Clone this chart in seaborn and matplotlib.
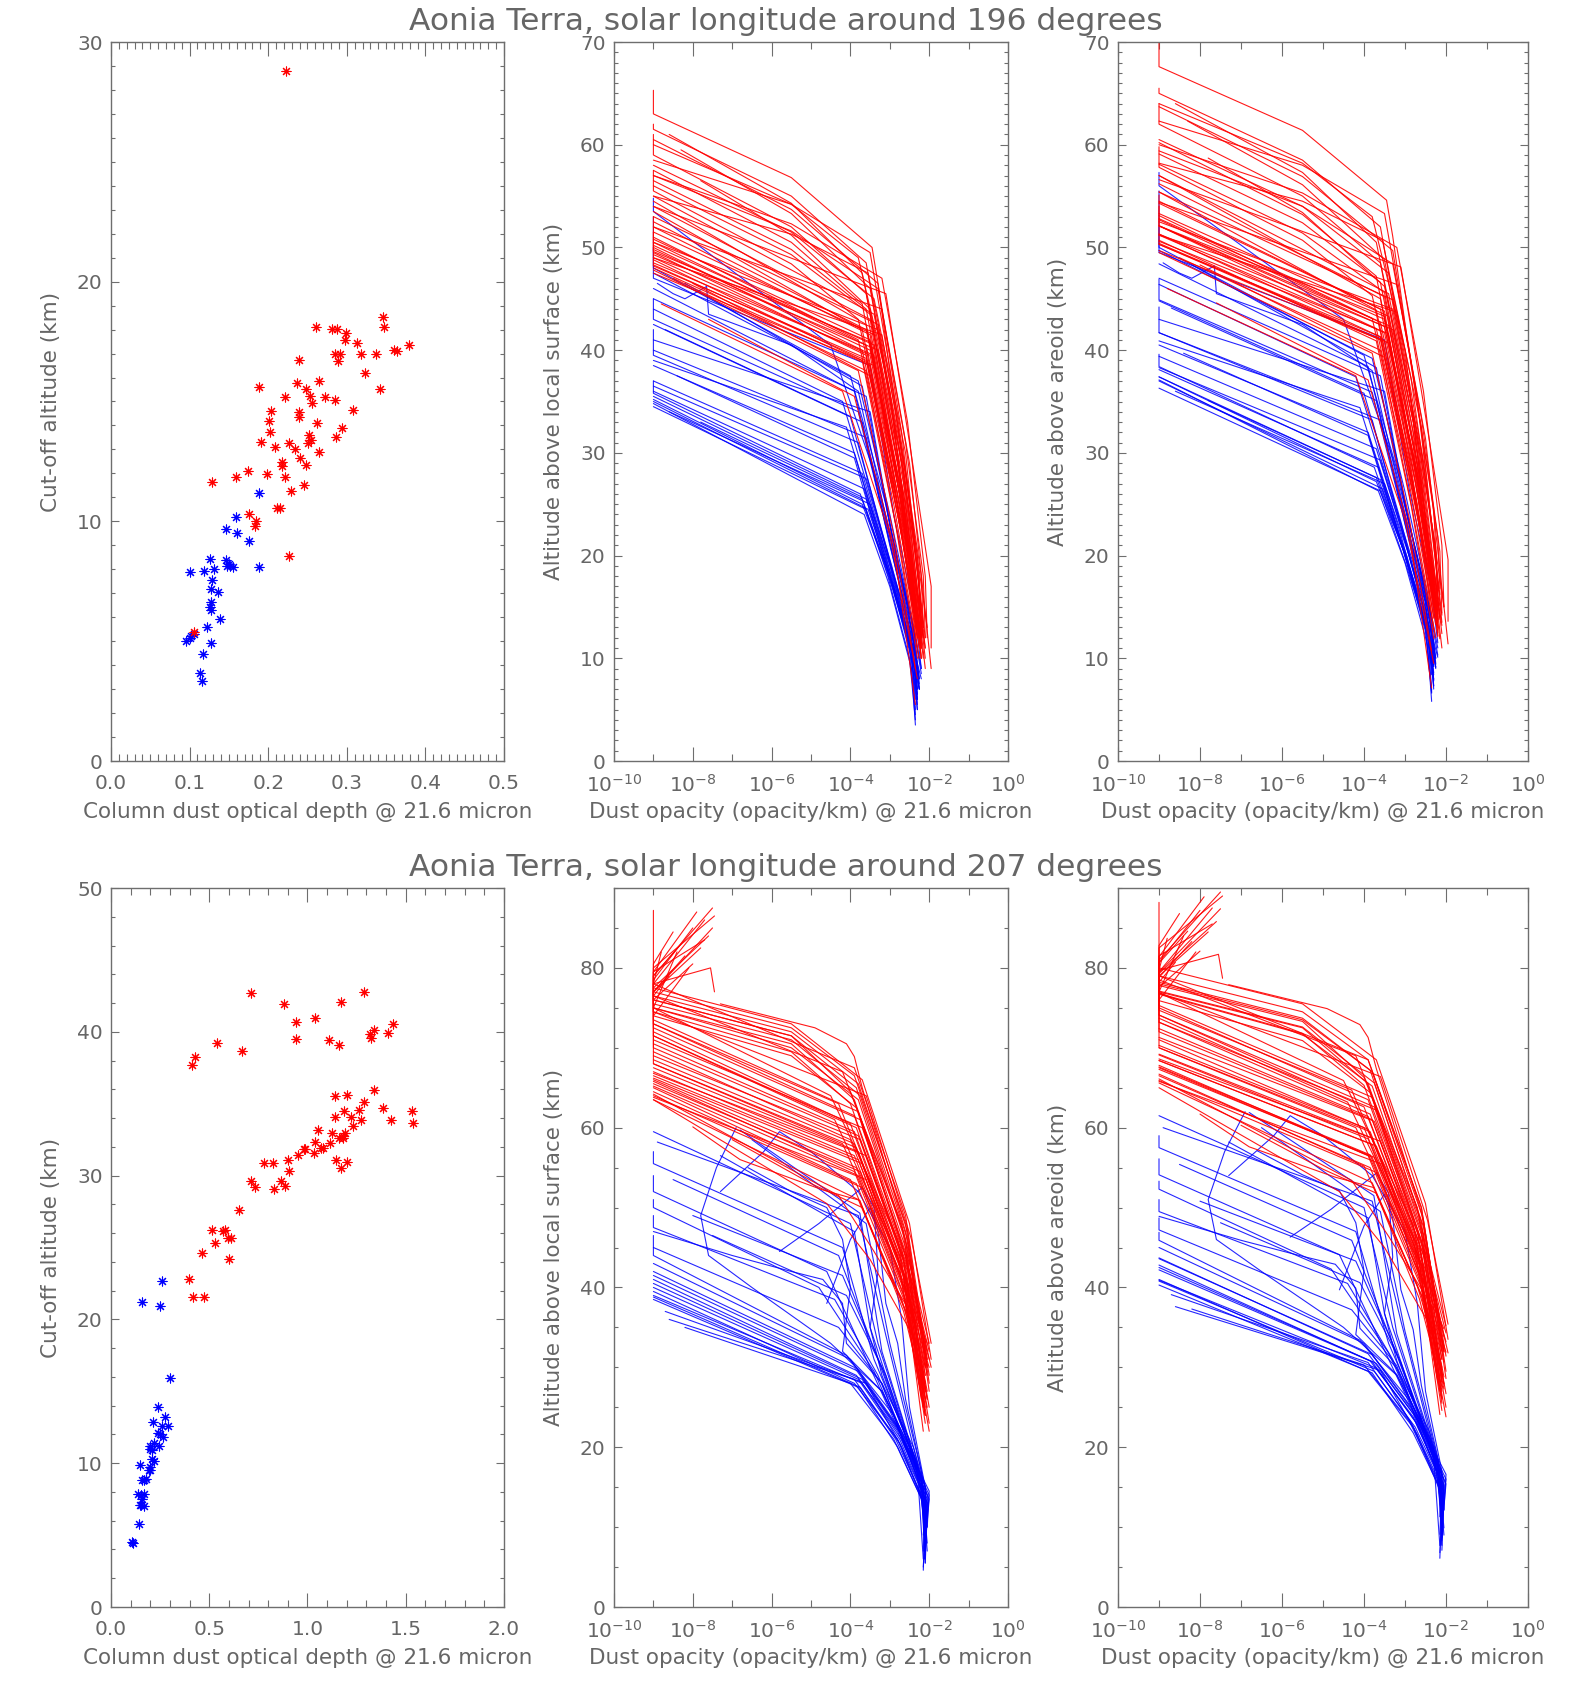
import numpy as np
import pandas as pd
import matplotlib
matplotlib.use("Agg")
import matplotlib.pyplot as plt
import seaborn as sns
from matplotlib.ticker import MultipleLocator, FixedLocator, FuncFormatter, NullFormatter

# ---------------------------------------------------------------- data
TITLES = ["Aonia Terra, solar longitude around 196 degrees",
          "Aonia Terra, solar longitude around 207 degrees"]
XLABEL_TAU = "Column dust optical depth @ 21.6 micron"
XLABEL_OPA = "Dust opacity (opacity/km) @ 21.6 micron"
YLABELS = ["Cut-off altitude (km)", "Altitude above local surface (km)", "Altitude above areoid (km)"]

# scatter: column optical depth vs cut-off altitude
TAU196_RED = [0.2228, 0.346, 0.347, 0.261, 0.281, 0.288, 0.2986, 0.2975, 0.3127, 0.3795, 0.3604, 0.3645,
              0.2845, 0.2914, 0.3186, 0.3368, 0.2891, 0.239, 0.3227, 0.2645, 0.2367, 0.1887, 0.248, 0.3418,
              0.253, 0.2723, 0.2845, 0.2218, 0.256, 0.204, 0.2393, 0.3077, 0.2393, 0.2005, 0.2018, 0.2617,
              0.294, 0.2518, 0.2541, 0.2505, 0.2859, 0.1914, 0.226, 0.2087, 0.2336, 0.2647, 0.2405, 0.2177,
              0.2177, 0.2486, 0.1282, 0.1587, 0.1737, 0.1986, 0.2209, 0.2455, 0.2291, 0.2117, 0.2153, 0.1755,
              0.185, 0.1829, 0.2268, 0.1055]
CUT196_RED = [28.79, 18.51, 18.12, 18.1, 18.01, 18.03, 17.84, 17.56, 17.45, 17.34, 17.15, 17.1,
              17.0, 17.0, 17.0, 17.0, 16.69, 16.72, 16.17, 15.85, 15.76, 15.59, 15.52, 15.51,
              15.23, 15.17, 15.06, 15.17, 14.92, 14.6, 14.58, 14.65, 14.36, 14.18, 13.74, 14.1,
              13.91, 13.6, 13.4, 13.26, 13.5, 13.31, 13.26, 13.11, 13.03, 12.88, 12.63, 12.49,
              12.32, 12.33, 11.65, 11.87, 12.08, 11.98, 11.83, 11.5, 11.28, 10.57, 10.57, 10.3,
              10.01, 9.8, 8.55, 5.37]
TAU196_BLUE = [0.1882, 0.1592, 0.1469, 0.1609, 0.1755, 0.1255, 0.1469, 0.15, 0.152, 0.155, 0.148, 0.188,
               0.1005, 0.1187, 0.1309, 0.1282, 0.1268, 0.1364, 0.1273, 0.1255, 0.1268, 0.1391, 0.1223,
               0.1055, 0.1019, 0.0959, 0.1005, 0.1268, 0.1173, 0.1132, 0.1155]
CUT196_BLUE = [11.17, 10.19, 9.69, 9.5, 9.19, 8.44, 8.39, 8.2, 8.13, 8.1, 8.13, 8.1,
               7.88, 7.92, 8.0, 7.55, 7.18, 7.06, 6.63, 6.43, 6.32, 5.91, 5.6,
               5.3, 5.2, 5.0, 5.15, 4.91, 4.46, 3.69, 3.34]

TAU207_RED = [0.7147, 1.287, 0.878, 1.171, 1.04, 0.942, 1.434, 1.34, 1.317, 1.323, 1.411, 0.94, 1.111,
              1.162, 0.538, 0.669, 0.429, 0.4136, 1.338, 1.14, 1.2, 1.29, 1.385, 1.532, 1.262, 1.184,
              1.138, 1.222, 1.27, 1.427, 1.538, 1.231, 1.051, 1.125, 1.19, 1.18, 1.18, 1.162, 1.04,
              1.116, 1.08, 1.07, 0.989, 0.98, 1.034, 0.952, 0.9, 1.147, 1.2, 0.78, 0.826, 0.904,
              1.168, 0.713, 0.865, 0.735, 0.829, 0.885, 0.651, 0.515, 0.58, 0.571, 0.593, 0.613,
              0.531, 0.464, 0.6, 0.395, 0.415, 0.475]
CUT207_RED = [42.7, 42.74, 41.93, 42.07, 40.96, 40.66, 40.52, 40.12, 39.87, 39.6, 39.93, 39.52, 39.4,
              39.08, 39.22, 38.64, 38.27, 37.71, 35.95, 35.54, 35.6, 35.12, 34.7, 34.52, 34.56, 34.47,
              34.05, 34.1, 33.89, 33.86, 33.63, 33.45, 33.2, 32.94, 32.94, 32.75, 32.6, 32.6, 32.34,
              32.3, 31.94, 31.94, 31.83, 31.83, 31.6, 31.4, 31.08, 31.08, 30.97, 30.9, 30.86, 30.34,
              30.5, 29.65, 29.6, 29.19, 29.07, 29.28, 27.58, 26.2, 26.25, 26.15, 25.69, 25.69,
              25.29, 24.64, 24.18, 22.81, 21.53, 21.53]
TAU207_BLUE = [0.2585, 0.1585, 0.2497, 0.3003, 0.2403, 0.2767, 0.2113, 0.2585, 0.2876, 0.2403, 0.247,
               0.2639, 0.2203, 0.198, 0.2458, 0.2076, 0.2, 0.2076, 0.22, 0.196, 0.2, 0.192, 0.1457,
               0.158, 0.169, 0.18, 0.138, 0.152, 0.17, 0.159, 0.154, 0.17, 0.147, 0.143, 0.106, 0.11]
CUT207_BLUE = [22.69, 21.21, 20.95, 15.9, 13.89, 13.19, 12.87, 12.61, 12.61, 12.12, 12.05,
               11.8, 11.38, 11.19, 11.19, 10.9, 11.0, 10.27, 10.13, 9.71, 9.53, 9.53, 9.87,
               8.83, 8.83, 8.87, 7.83, 7.8, 7.83, 7.5, 7.12, 7.0, 7.12, 5.75, 4.54, 4.42]

# profiles: (surface elevation km, then vertex pairs: log10 opacity, altitude above local surface km)
PROF196_RED = [
    (4.6, -9, 65.3, -9, 63.0, -5.5, 56.8, -3.45, 50.0, -3.3, 46.5, -3.0, 38, -2.3, 20, -2.2, 12),
    (3.5, -9, 62.0, -9, 61.5, -5.5, 55.0, -3.6, 48.5, -2.9, 33, -2.25, 12),
    (3.0, -8.6, 61.0, -5.5, 54.3, -3.7, 47.5, -2.8, 30, -2.2, 11),
    (3.2, -9, 60.5, -5.5, 53.7, -3.3, 46.5, -2.7, 32, -2.15, 13),
    (2.8, -8.3, 59.5, -5.5, 53.3, -3.5, 46.0, -2.75, 30, -2.25, 18, -2.2, 11.5),
    (3.0, -9, 61.0, -9, 59.0, -5.5, 52.0, -3.6, 45.5, -2.8, 29, -2.3, 12),
    (2.5, -9, 58.0, -5.5, 51.5, -3.4, 45.0, -2.6, 30, -2.1, 11),
    (2.7, -9, 57.5, -5.5, 50.5, -3.7, 44.5, -2.9, 28, -2.25, 13),
    (2.2, -7.8, 56.5, -5.5, 51.2, -3.5, 44.0, -2.7, 29, -2.2, 10),
    (2.4, -9, 57.0, -5.5, 51.6, -3.3, 46.0, -2.6, 31, -2.15, 18, -2.1, 12),
    (2.6, -9, 56.5, -5.5, 49.8, -3.6, 44.0, -2.8, 28, -2.25, 12),
    (2.1, -9, 56.0, -5.5, 49.3, -3.5, 43.5, -2.7, 27, -2.2, 10),
    (2.3, -9, 57.5, -9, 55.5, -5.5, 48.4, -3.8, 43.0, -2.9, 27, -2.3, 13),
    (2.0, -9, 55.0, -3.4, 43.5, -2.65, 28, -2.15, 12),
    (2.5, -9, 54.5, -3.6, 42.5, -2.75, 26, -2.2, 11),
    (2.2, -9, 54.0, -3.5, 43.0, -2.8, 27, -2.25, 12.5),
    (1.9, -9, 53.5, -3.7, 42.0, -2.85, 26, -2.3, 12),
    (2.4, -9, 53.0, -3.3, 42.5, -2.6, 27, -2.1, 10),
    (2.0, -9, 52.5, -3.6, 42.0, -2.7, 26, -2.2, 13),
    (2.3, -9, 52.0, -3.5, 41.5, -2.8, 25, -2.25, 11),
    (1.8, -9, 51.5, -3.4, 41.5, -2.65, 26, -2.15, 12),
    (2.1, -9, 51.0, -3.8, 41.0, -2.9, 25, -2.3, 12),
    (2.0, -9, 50.8, -3.5, 41.0, -2.7, 26, -2.2, 12),
    (2.2, -9, 50.5, -3.6, 40.5, -2.75, 25, -2.2, 11),
    (1.9, -9, 50.2, -3.4, 40.5, -2.6, 25, -2.15, 10),
    (2.1, -9, 50.0, -3.7, 40.0, -2.8, 24, -2.25, 13),
    (2.3, -9, 49.8, -3.5, 40.0, -2.7, 25, -2.2, 12),
    (1.8, -9, 49.5, -3.6, 39.5, -2.75, 24, -2.3, 11),
    (2.0, -9, 49.3, -3.3, 40.0, -2.6, 26, -2.1, 9),
    (2.2, -9, 49.0, -3.5, 39.5, -2.7, 24, -2.2, 12),
    (1.9, -9, 48.8, -3.7, 39.0, -2.85, 23, -2.3, 10),
    (2.1, -9, 48.5, -3.4, 39.5, -2.65, 24, -2.15, 13),
    (2.0, -9, 48.3, -3.6, 39.0, -2.7, 23, -2.2, 11),
    (2.4, -9, 48.0, -3.5, 38.5, -2.75, 23, -2.25, 12),
    (1.7, -9, 47.8, -3.8, 38.0, -2.9, 22, -2.35, 9),
    (2.2, -9, 47.5, -3.4, 38.5, -2.6, 24, -2.1, 11),
    (2.0, -8.5, 47.0, -3.6, 38.0, -2.8, 22, -2.25, 10),
    (1.8, -8.0, 46.5, -3.5, 37.5, -2.7, 22, -2.2, 12),
    (1.5, -8.8, 44.5, -4.2, 36.0, -3.0, 22, -2.3, 8),
    (1.6, -7.6, 43.0, -3.9, 35.5, -2.9, 21, -2.35, 5.5),
    (3.0, -9, 57.0, -5.5, 52.3, -3.2, 47.0, -2.55, 33, -2.1, 18, -2.05, 12),
    (2.6, -9, 54.0, -3.1, 45.5, -2.5, 31, -1.95, 17, -1.95, 11),
    (2.4, -9, 52.0, -3.2, 44.0, -2.5, 29, -1.95, 9),
    (2.0, -9, 50.5, -3.3, 42.0, -2.6, 28, -2.05, 13),
    (2.2, -9, 49.0, -3.2, 41.5, -2.55, 27, -2.1, 12),
    (3.8, -9, 58.5, -5.5, 54.2, -3.5, 49.5, -2.9, 36, -2.2, 18, -2.15, 13),
    (3.2, -9, 55.0, -5.5, 51.3, -3.55, 47.5, -2.85, 34, -2.25, 17, -2.2, 12.5),
    (4.0, -9, 60.0, -5.5, 54.2, -3.8, 49.0, -3.0, 36, -2.3, 13),
    (2.5, -9, 51.5, -9, 49.6, -3.5, 40.8, -2.7, 25, -2.2, 10),
    (2.1, -9, 53.0, -9, 48.2, -3.6, 39.2, -2.8, 24, -2.25, 12),
]
PROF196_BLUE = [
    (2.5, -9, 54.8, -9, 53.5, -4.5, 40.5, -3.3, 27, -2.55, 15, -2.3, 9),
    (2.0, -9, 50.0, -9, 48.0, -4.0, 37.5, -3.1, 25, -2.5, 14, -2.25, 8),
    (2.2, -9, 47.5, -3.8, 37.0, -3.0, 24, -2.45, 14, -2.3, 7),
    (1.8, -8.2, 46.5, -3.7, 36.5, -3.0, 23, -2.4, 13, -2.2, 8.5),
    (2.4, -9, 46.0, -3.9, 36.0, -3.1, 23, -2.5, 13, -2.35, 6),
    (2.0, -9, 45.0, -3.6, 35.5, -2.95, 22, -2.4, 13, -2.25, 7.5),
    (1.9, -9, 45.0, -9, 43.0, -3.8, 34.0, -3.05, 22, -2.45, 12, -2.3, 6.5),
    (2.3, -9, 42.5, -4.0, 33.5, -3.1, 21, -2.5, 12, -2.3, 5),
    (2.1, -8.7, 42.0, -3.7, 33.0, -3.0, 21, -2.4, 12, -2.25, 7),
    (1.7, -9, 40.0, -3.6, 31.5, -2.95, 21, -2.4, 13, -2.3, 8),
    (2.2, -9, 42.0, -9, 39.5, -3.8, 31.0, -3.05, 20, -2.45, 11, -2.35, 4.5),
    (2.0, -9, 38.5, -3.9, 30.0, -3.1, 20, -2.5, 11, -2.3, 6),
    (2.4, -9, 37.0, -3.7, 28.0, -3.0, 19, -2.45, 11, -2.25, 7),
    (1.8, -9, 36.5, -3.6, 27.5, -2.95, 19, -2.4, 11, -2.3, 5.5),
    (2.1, -9, 36.0, -3.65, 26.5, -3.0, 18, -2.4, 11, -2.2, 8),
    (2.6, -9, 37.0, -9, 35.8, -3.75, 26.0, -3.05, 18, -2.5, 10, -2.35, 4),
    (1.9, -9, 35.5, -3.6, 25.5, -2.95, 18, -2.4, 10, -2.3, 6),
    (2.2, -9, 35.2, -3.7, 25.0, -3.0, 18, -2.45, 10, -2.25, 7),
    (2.0, -9, 35.0, -3.55, 24.5, -2.9, 17, -2.4, 10, -2.3, 5),
    (2.3, -9, 34.8, -3.65, 24.0, -3.0, 17, -2.45, 9, -2.35, 3.5),
    (1.8, -9, 34.5, -3.6, 24.5, -2.95, 17, -2.4, 10, -2.3, 6),
    (2.0, -8.6, 34.0, -3.5, 25.0, -2.9, 18, -2.35, 11, -2.25, 8),
    (2.1, -7.8, 33.0, -3.7, 25.5, -3.0, 18, -2.4, 10, -2.3, 6.5),
    (2.4, -9, 44.0, -4.2, 35.0, -3.2, 22, -2.5, 13, -2.3, 7),
    (1.9, -9, 39.0, -4.1, 32.5, -3.2, 21, -2.5, 11, -2.35, 5),
    (2.2, -8.4, 37.5, -3.9, 29.5, -3.1, 19, -2.45, 11, -2.3, 7),
    (2.0, -9, 41.0, -3.5, 34.0, -2.9, 21, -2.35, 12, -2.2, 9),
    (2.5, -9, 53.0, -9, 47.0, -3.5, 38.5, -2.9, 24, -2.35, 14, -2.2, 9),
    (2.0, -8.9, 46.5, -8.5, 45.5, -8.2, 45.0, -7.65, 46.2, -7.6, 43.5, -5.5, 40.5, -3.8, 36.0,
     -3.0, 22, -2.4, 12, -2.25, 7),
]
PROF207_RED = [
    (2.0, -7.5, 87.5, -9, 79, -9, 77, -5.5, 72.5, -3.9, 66.5, -2.6, 48, -2.05, 30),
    (1.5, -7.7, 86.0, -9, 78, -9, 76.5, -5.5, 72, -3.8, 65.5, -2.55, 47, -2.0, 28),
    (2.2, -8.0, 85.0, -9, 78.5, -9, 76, -5.5, 71.5, -3.85, 65, -2.6, 46, -2.1, 26),
    (1.8, -7.6, 84.0, -9, 77.5, -9, 76, -5.5, 71.5, -4.0, 64.5, -2.65, 47, -2.05, 32),
    (2.5, -7.45, 86.5, -9, 80, -9, 77.5, -5.5, 73, -3.7, 66, -2.5, 48, -1.95, 31),
    (1.6, -8.3, 83.0, -9, 79, -9, 75.5, -5.5, 71, -3.75, 64, -2.55, 46, -2.0, 27),
    (2.0, -7.8, 82.5, -9, 77, -9, 75, -5.5, 70.5, -3.9, 63.5, -2.6, 45, -2.1, 24),
    (1.7, -7.45, 77.0, -7.55, 80.0, -9, 78, -9, 75, -5.5, 70, -3.8, 63.5, -2.55, 45, -2.05, 29),
    (2.3, -8.5, 84.5, -9, 80.5, -9, 74.5, -5.5, 69.5, -4.0, 63, -2.7, 45, -2.15, 25),
    (1.9, -7.9, 87.0, -9, 79.5, -9, 74, -5.5, 69, -3.85, 62.5, -2.6, 44, -2.05, 30),
    (2.4, -7.3, 75.5, -4.9, 72.5, -4.1, 70.5, -3.9, 68.9, -3.7, 65, -2.6, 47, -2.0, 29),
    (1.8, -8.2, 81.5, -9, 77, -9, 73.5, -3.8, 62, -2.6, 44, -2.1, 27),
    (2.0, -9, 73, -3.9, 61.5, -2.65, 43.5, -2.1, 25),
    (1.6, -8.0, 80.5, -9, 76, -9, 72.5, -3.75, 61, -2.55, 43, -2.05, 31),
    (2.1, -9, 72, -4.0, 60.5, -2.7, 43, -2.15, 22),
    (1.7, -8.6, 79.0, -9, 76.5, -9, 71.5, -3.85, 60, -2.6, 42.5, -2.1, 28),
    (2.2, -9, 71, -3.7, 60, -2.5, 43, -2.0, 33),
    (1.9, -9, 70.5, -3.9, 59.5, -2.6, 42, -2.05, 26),
    (2.0, -8.4, 82.0, -9, 75, -9, 70, -3.8, 59, -2.55, 42, -2.1, 30),
    (1.5, -9, 69.5, -4.0, 58.5, -2.65, 41.5, -2.1, 24),
    (2.3, -9, 69, -3.75, 58.5, -2.5, 42, -2.0, 32),
    (1.8, -9, 68.5, -3.9, 58, -2.6, 41, -2.05, 27),
    (2.0, -8.1, 80.0, -9, 74, -9, 68, -3.85, 57.5, -2.6, 41, -2.1, 29),
    (1.7, -9, 67.5, -3.8, 57, -2.55, 40.5, -2.0, 25),
    (2.1, -9, 67, -3.9, 56.5, -2.6, 40, -2.1, 30),
    (1.9, -9, 66.5, -3.8, 56, -2.55, 40, -2.05, 26),
    (2.2, -9, 66.2, -3.7, 55.5, -2.5, 40, -2.0, 31),
    (1.6, -9, 66, -3.85, 55, -2.6, 39.5, -2.1, 23),
    (2.0, -9, 65.8, -3.9, 54.5, -2.65, 39, -2.1, 28),
    (1.8, -9, 65.5, -3.75, 54.5, -2.55, 39, -2.05, 33),
    (2.3, -9, 65.2, -3.8, 54, -2.6, 38.5, -2.05, 25),
    (1.7, -9, 65, -4.0, 53.5, -2.7, 38.5, -2.15, 29),
    (2.0, -9, 64.5, -3.85, 53, -2.6, 38, -2.1, 27),
    (1.9, -9, 64, -3.7, 52.5, -2.5, 38, -2.0, 30),
    (2.1, -9, 63.5, -3.8, 51, -2.6, 37, -2.1, 24),
    (1.6, -8.0, 60.1, -6.8, 56, -4.7, 52.2, -3.76, 50.9, -2.65, 37, -2.1, 26),
    (1.8, -7.0, 58.5, -5.0, 53, -3.7, 50, -2.5, 36, -2.0, 22),
    (2.0, -7.7, 83.5, -9, 79.5, -9, 76.5, -4.2, 67, -2.7, 48, -2.1, 29),
    (1.7, -8.8, 82.0, -9, 78, -9, 73, -4.3, 63, -2.75, 44, -2.15, 27),
    (2.2, -9, 71.5, -4.4, 61, -2.8, 44, -2.2, 26),
    (1.9, -9, 75, -4.5, 64, -2.8, 46, -2.15, 28),
    (2.0, -9, 68, -4.2, 58, -2.75, 42, -2.15, 25),
    (2.4, -7.5, 85.0, -9, 77, -9, 74.5, -3.6, 64, -2.45, 46, -1.95, 33),
    (1.8, -9, 66.8, -3.6, 56.5, -2.45, 41, -1.95, 30),
    (2.0, -9, 63.8, -3.6, 53.5, -2.5, 38, -2.0, 23),
    (1.5, -9, 63.5, -4.6, 50.5, -3.5, 43.5, -2.3, 33),
    (1.9, -9, 64.2, -4.3, 51.5, -3.4, 44.5, -2.25, 35),
    (1.0, -9, 87.2, -9, 78, -3.9, 67.5, -2.6, 49, -2.05, 31),
]
PROF207_BLUE = [
    (2.0, -9, 59.5, -4.0, 48, -3.3, 33, -2.2, 16, -2.1, 8),
    (1.8, -8.9, 58.2, -3.8, 49, -3.1, 34, -2.15, 15, -2.1, 9),
    (2.2, -6.8, 59.7, -3.76, 49.3, -3.2, 32, -2.2, 16, -2.05, 10),
    (1.5, -6.5, 58.5, -3.6, 48, -3.0, 33, -2.1, 15, -2.1, 7),
    (2.0, -9, 57.0, -9, 55.5, -4.2, 45, -3.4, 31, -2.3, 18, -2.1, 9),
    (1.7, -7.3, 56.5, -3.9, 47, -3.5, 35, -2.3, 17, -2.15, 6),
    (2.1, -9, 54.0, -9, 52.0, -4.6, 42, -3.5, 30, -2.3, 17, -2.1, 10),
    (1.9, -8.5, 53.5, -4.3, 44, -3.3, 31, -2.2, 16, -2.05, 8),
    (2.3, -9, 51.0, -9, 50.0, -4.8, 40, -3.4, 29.5, -2.2, 16, -2.1, 6),
    (1.8, -8.0, 49.0, -4.2, 41.5, -3.2, 30, -2.15, 15, -2.1, 9),
    (2.0, -9, 49.0, -9, 47.5, -4.4, 38.5, -3.3, 29, -2.2, 16, -2.05, 7),
    (1.6, -7.5, 46.5, -4.1, 39, -3.1, 29, -2.1, 15, -2.1, 10),
    (2.2, -9, 46.5, -9, 45.0, -4.3, 35, -3.2, 28, -2.2, 15, -2.1, 5.5),
    (1.9, -9, 45.0, -9, 44.0, -4.1, 31.5, -2.9, 24, -2.15, 14, -2.1, 9),
    (2.0, -9, 43.0, -4.0, 31, -2.85, 23, -2.05, 14, -2.1, 8),
    (1.7, -9, 42.0, -3.9, 30, -2.8, 22.5, -2.05, 13, -2.1, 7),
    (2.1, -9, 41.5, -3.8, 29.5, -2.75, 22, -2.0, 14.5, -2.05, 10),
    (1.8, -9, 41.0, -3.85, 29, -2.8, 22, -2.05, 13.5, -2.15, 5),
    (2.0, -9, 40.5, -3.7, 28.5, -2.7, 21.5, -2.0, 14, -2.1, 9),
    (2.2, -9, 40.0, -3.8, 28.5, -2.75, 21, -2.05, 13, -2.1, 6.5),
    (1.5, -9, 39.5, -3.9, 28, -2.8, 21, -2.1, 12.5, -2.15, 4.6),
    (1.9, -9, 39.0, -3.7, 28, -2.7, 21, -2.0, 13.5, -2.1, 8),
    (2.0, -9, 38.8, -3.75, 27.5, -2.75, 20.5, -2.05, 13, -2.1, 10),
    (1.8, -9, 38.5, -3.8, 27.5, -2.8, 20, -2.05, 12, -2.12, 6),
    (2.1, -8.7, 37.0, -3.9, 28.5, -2.85, 21, -2.1, 13, -2.15, 7),
    (2.3, -8.2, 35.0, -4.0, 28, -2.9, 21, -2.1, 12.5, -2.15, 9),
    (1.6, -8.6, 36.0, -3.6, 28, -2.7, 20, -2.05, 12, -2.1, 5.5),
    (2.0, -6.9, 60.0, -7.4, 55, -7.8, 49, -7.6, 44, -6.5, 40, -4.5, 33, -3.2, 27, -2.5, 20,
     -2.1, 14, -2.1, 8),
    (1.8, -5.8, 44.5, -4.8, 48, -3.7, 52.5, -3.4, 50, -3.3, 42, -3.5, 35, -3.2, 29, -2.5, 20,
     -2.1, 13, -2.1, 7),
    (2.1, -6.6, 55, -5.5, 52, -4.6, 50, -4.2, 46, -4.0, 40, -4.2, 32, -3.2, 27, -2.4, 19, -2.05, 12),
    (1.9, -9, 47, -7, 44, -5.5, 42, -4.7, 41, -4.2, 38, -4.1, 33, -3.2, 28, -2.4, 20, -2.05, 14,
     -2.1, 9),
    (2.0, -7.3, 52, -6.2, 57, -5.8, 59.5, -5.0, 57, -3.8, 52, -3.0, 45, -2.7, 36, -2.5, 25,
     -2.1, 15, -2.1, 10),
    (1.7, -4.6, 38, -4.3, 42, -4.0, 46, -3.5, 50, -3.3, 47, -3.1, 38, -2.8, 33, -2.6, 26,
     -2.2, 17, -2.1, 11),
]

# ---------------------------------------------------------------- style
sns.set_theme(style="white")
plt.rcParams["font.family"] = ["DejaVu Sans"]
TXT = "#666666"
SPN = "#6e6e6e"
RED = "#ff0000"
BLUE = "#0000ff"
FS_TICK = 14.5
FS_LAB = 15.5
FS_TITLE = 22.5

W, H = 1574, 1692
fig = plt.figure(figsize=(W / 100, H / 100), dpi=100)

ROWS = [(42, 761), (888, 1607)]
COLS = [(111, 504), (614, 1008), (1118, 1528)]


def add_ax(c, r):
    x0, x1 = COLS[c]
    y0, y1 = ROWS[r]
    return fig.add_axes([x0 / W, 1 - y1 / H, (x1 - x0) / W, (y1 - y0) / H])


def style(ax, c):
    for s in ax.spines.values():
        s.set_color(SPN)
        s.set_linewidth(1.0)
    ax.tick_params(which="both", direction="in", bottom=True, left=True, top=True, right=True,
                   color=SPN, labelcolor=TXT, labelsize=FS_TICK, width=0.8)
    ax.tick_params(axis="x", which="major", length=10, pad=9)
    ax.tick_params(axis="x", which="minor", length=5)
    ax.tick_params(axis="y", which="major", length=6, pad=6)
    ax.tick_params(axis="y", which="minor", length=3)
    ax.grid(False)
    w = COLS[c][1] - COLS[c][0]
    ax.set_ylabel(YLABELS[c], fontsize=FS_LAB, color=TXT, va="center", ha="center")
    ax.yaxis.set_label_coords((-60) / w, 0.5)
    ax.set_xlabel(XLABEL_TAU if c == 0 else XLABEL_OPA, fontsize=FS_LAB, color=TXT, va="center")
    ax.xaxis.set_label_coords(0.5, -51 / 719)


def profile_frame(plist, color):
    rows = []
    for i, p in enumerate(plist):
        elev, v = p[0], p[1:]
        for j in range(0, len(v), 2):
            rows.append((f"{color}{i}", 10.0 ** v[j], v[j + 1], v[j + 1] + elev))
    return pd.DataFrame(rows, columns=["pid", "opacity", "alt_surf", "alt_areoid"])


def log_fmt(v, pos):
    e = int(round(np.log10(v)))
    return r"$10^{%d}$" % e


sets = [
    dict(tau_r=TAU196_RED, cut_r=CUT196_RED, tau_b=TAU196_BLUE, cut_b=CUT196_BLUE,
         pr=PROF196_RED, pb=PROF196_BLUE, xmax=0.5, xmaj=0.1, xmin=0.01,
         ymax0=30, ymaj0=10, ymin0=1, ymax=70, ymaj=10, ymin=1),
    dict(tau_r=TAU207_RED, cut_r=CUT207_RED, tau_b=TAU207_BLUE, cut_b=CUT207_BLUE,
         pr=PROF207_RED, pb=PROF207_BLUE, xmax=2.0, xmaj=0.5, xmin=0.1,
         ymax0=50, ymaj0=10, ymin0=2, ymax=90, ymaj=20, ymin=5),
]

for r, d in enumerate(sets):
    # scatter panel
    ax = add_ax(0, r)
    sns.scatterplot(x=d["tau_b"], y=d["cut_b"], ax=ax, color=BLUE, marker=(8, 2, 0), s=42,
                    linewidth=0.8, legend=False)
    sns.scatterplot(x=d["tau_r"], y=d["cut_r"], ax=ax, color=RED, marker=(8, 2, 0), s=42,
                    linewidth=0.8, legend=False)
    ax.set_xlim(0, d["xmax"])
    ax.set_ylim(0, d["ymax0"])
    ax.xaxis.set_major_locator(MultipleLocator(d["xmaj"]))
    ax.xaxis.set_minor_locator(MultipleLocator(d["xmin"]))
    ax.xaxis.set_major_formatter(FuncFormatter(lambda v, p: "%.1f" % v))
    ax.yaxis.set_major_locator(MultipleLocator(d["ymaj0"]))
    ax.yaxis.set_minor_locator(MultipleLocator(d["ymin0"]))
    style(ax, 0)

    dfr = profile_frame(d["pr"], "r")
    dfb = profile_frame(d["pb"], "b")
    for c, ycol in [(1, "alt_surf"), (2, "alt_areoid")]:
        ax = add_ax(c, r)
        ax.set_xscale("log")
        sns.lineplot(data=dfb, x="opacity", y=ycol, units="pid", estimator=None, sort=False,
                     color=BLUE, lw=0.8, alpha=0.85, ax=ax, legend=False)
        sns.lineplot(data=dfr, x="opacity", y=ycol, units="pid", estimator=None, sort=False,
                     color=RED, lw=0.8, alpha=0.9, ax=ax, legend=False)
        ax.set_xlim(1e-10, 1)
        ax.set_ylim(0, d["ymax"])
        ax.xaxis.set_major_locator(FixedLocator([1e-10, 1e-8, 1e-6, 1e-4, 1e-2, 1]))
        ax.xaxis.set_minor_locator(FixedLocator([1e-9, 1e-7, 1e-5, 1e-3, 1e-1]))
        ax.xaxis.set_major_formatter(FuncFormatter(log_fmt))
        ax.xaxis.set_minor_formatter(NullFormatter())
        ax.yaxis.set_major_locator(MultipleLocator(d["ymaj"]))
        ax.yaxis.set_minor_locator(MultipleLocator(d["ymin"]))
        style(ax, c)

fig.text(786 / W, 1 - 21 / H, TITLES[0], ha="center", va="center", fontsize=FS_TITLE, color=TXT)
fig.text(786 / W, 1 - 867 / H, TITLES[1], ha="center", va="center", fontsize=FS_TITLE, color=TXT)

fig.savefig("out.png", dpi=100, facecolor="white")
